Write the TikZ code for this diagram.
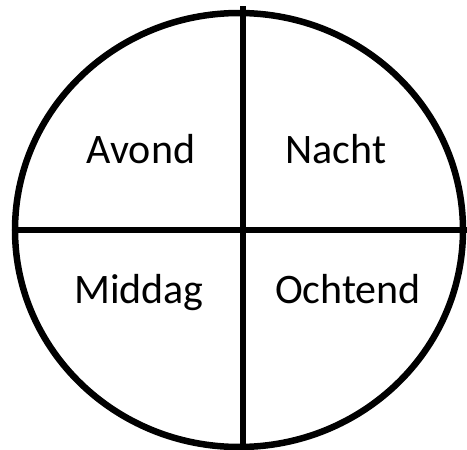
\documentclass[tikz,border=0pt]{standalone}
\usepackage{fontspec}
\setmainfont{Carlito}
\begin{document}
\begin{tikzpicture}[x=1pt,y=-1pt,
  stroke/.style={line width=6.5pt,black},
  lbl/.style={anchor=base,inner sep=0pt,font=\fontsize{42}{50}\selectfont}]
\useasboundingbox (0,0) rectangle (467,450);
\fill[white] (0,0) rectangle (467,450);
\draw[stroke] (239,230) ellipse [x radius=224, y radius=217];
\coordinate (top) at (243,6);
\coordinate (bottom) at (243,452);
\coordinate (left) at (15,230);
\coordinate (right) at (469,230);
\draw[stroke] (top) -- (bottom);
\draw[stroke] (left) -- (right);
\node[lbl] (avond) at (141,163) {Avond};
\node[lbl] (nacht) at (336,163) {Nacht};
\node[lbl] (middag) at (139,303) {Middag};
\node[lbl] (ochtend) at (348,303) {Ochtend};
\end{tikzpicture}
\end{document}
